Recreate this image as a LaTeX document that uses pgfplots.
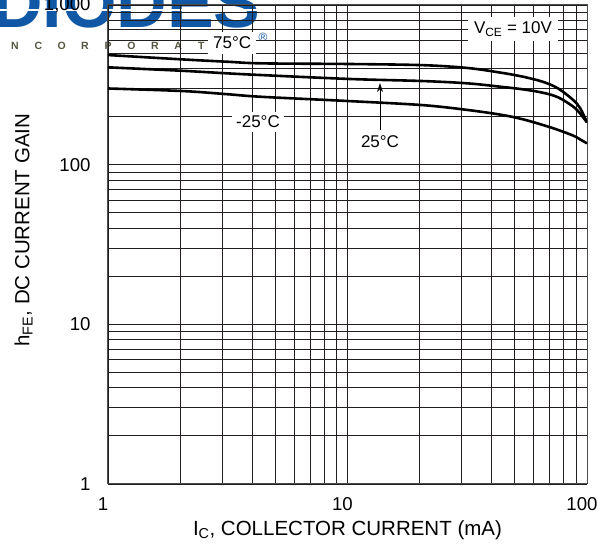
\documentclass[border=0pt]{standalone}
\usepackage{fontspec}
\setmainfont{Liberation Sans}
\usepackage{pgfplots}
\pgfplotsset{compat=1.18}
\usetikzlibrary{arrows.meta}

\definecolor{diodesblue}{RGB}{16,88,166}
\definecolor{diodesgray}{RGB}{85,85,65}
\definecolor{gridcol}{RGB}{35,30,30}
\newcommand{\annfont}{\fontsize{17}{17}\selectfont}

\begin{document}
\begin{tikzpicture}[x=1pt,y=1pt]
\useasboundingbox (0,0) rectangle (597,546);

% logo, sits behind the grid
\begin{scope}
  \clip (0,0) rectangle (597,546);
  \node[anchor=base west, inner sep=0, text=diodesblue,
        font=\fontsize{70}{70}\selectfont\bfseries] at (-8,518) {DIODES};
  \draw[white, line width=1.5] (0,536) -- (258,536);
  \foreach \c [count=\i] in {I,N,C,O,R,P,O,R,A,T,E,D}
    \node[text=diodesgray, font=\fontsize{10.5}{10.5}\selectfont\bfseries, inner sep=0]
      at ({-31.6+23.3*\i},500.5) {\c};
  \node[text=diodesblue, font=\fontsize{12}{12}\selectfont, inner sep=0] at (263,509) {®};
\end{scope}

\begin{axis}[
    at={(108pt,62pt)}, anchor=south west,
    scale only axis, width=479pt, height=479pt,
    xmode=log, ymode=log,
    xmin=1, xmax=100, ymin=1, ymax=1000,
    xtick={1,10,100}, xticklabels={1,10,100},
    ytick={1,10,100,1000}, yticklabels={1,10,100,{1,000}},
    minor xtick={2,3,4,5,6,7,8,9,20,30,40,50,60,70,80,90},
    minor ytick={2,3,4,5,6,7,8,9,20,30,40,50,60,70,80,90,200,300,400,500,600,700,800,900},
    major tick length=0pt, minor tick length=0pt,
    grid=both,
    major grid style={gridcol, line width=0.9pt},
    minor grid style={gridcol, line width=0.9pt},
    axis line style={black!70, line width=1pt},
    tick label style={font=\fontsize{18.6}{18.6}\selectfont},
    xticklabel style={anchor=base, yshift=-27pt, xshift=-5pt},
    yticklabel style={anchor=east, xshift=-14pt},
    label style={font=\fontsize{20.5}{20.5}\selectfont},
    xlabel={I\textsubscript{C}, COLLECTOR CURRENT (mA)},
    ylabel={h\textsubscript{FE}, DC CURRENT GAIN},
    xlabel style={at={(axis description cs:0.5,0)}, anchor=base, yshift=-51.5pt},
    ylabel style={at={(axis description cs:-0.1639,0.53)}, anchor=base},
  ]

% 75 C
\addplot[black, line width=2.6pt, smooth, tension=0.55] coordinates {
  (1,486) (2.06,456) (3.17,441) (4.39,431) (10.25,427) (20.6,420) (31.8,403)
  (44.1,376) (54.3,355) (65.6,330) (75.8,300) (87.6,254) (93.6,226) (100,184)
};
% 25 C
\addplot[black, line width=2.6pt, smooth, tension=0.55] coordinates {
  (1,407) (2.06,387) (3.17,373) (4.39,364) (10.25,344) (20.6,334) (31.8,323)
  (44.1,307) (54.3,296) (65.6,282) (75.8,264) (87.6,231) (93.6,209) (100,184)
};
% -25 C
\addplot[black, line width=2.6pt, smooth, tension=0.55] coordinates {
  (1,300) (2.06,289) (3.17,276) (4.39,266) (10.25,250) (20.6,236) (31.8,220)
  (44.1,205) (54.3,192) (65.6,177) (75.8,165) (87.6,152) (93.6,144) (100,136)
};

\node[fill=white, inner sep=5pt, font=\annfont] at (axis cs:3.3,577) {75°C};
\node[fill=white, inner sep=4pt, font=\annfont] at (axis cs:4.23,185) {-25°C};
\node[font=\annfont] at (axis cs:13.67,138.5) {25°C};
\draw[-{Stealth[length=9pt,width=6pt]}, line width=0.8pt]
  (axis cs:13.67,164.7) -- (axis cs:13.67,324);
\node[fill=white, inner xsep=6pt, inner ysep=5pt, font=\annfont]
  at (axis cs:49.1,706) {V\textsubscript{CE} = 10V};
\end{axis}
\end{tikzpicture}
\end{document}
